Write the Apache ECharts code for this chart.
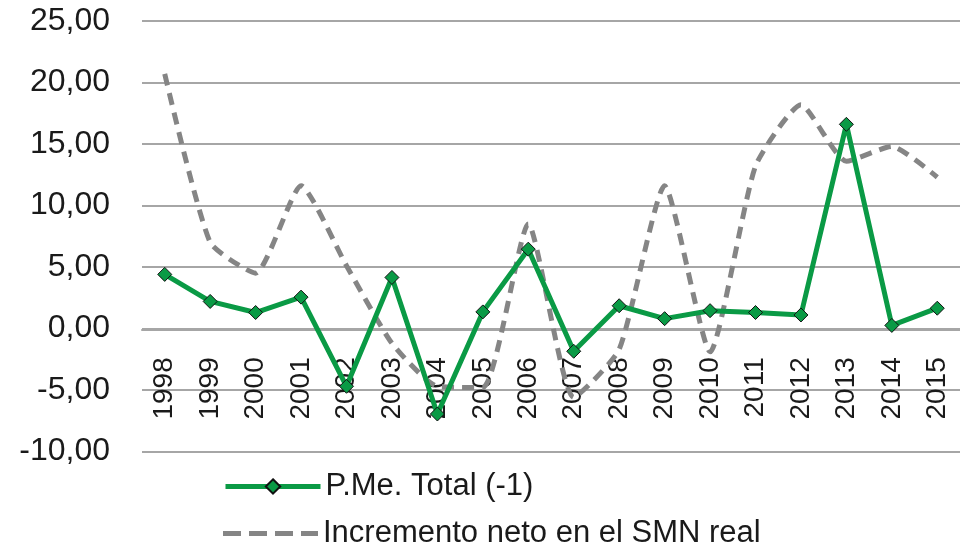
<!DOCTYPE html>
<html>
<head>
<meta charset="utf-8">
<script src="https://cdn.jsdelivr.net/npm/echarts@6/dist/echarts.min.js"></script>
<style>
  html, body { margin: 0; padding: 0; background: #fff; }
  #chart { width: 960px; height: 548px; }
</style>
</head>
<body>
<div id="chart"></div>
<script>
// years on the x axis
var years = ['1998', '1999', '2000', '2001', '2002', '2003', '2004', '2005', '2006',
  '2007', '2008', '2009', '2010', '2011', '2012', '2013', '2014', '2015'];

// P.Me. Total (-1)
var pmeTotal = [4.4, 2.2, 1.3, 2.55, -4.7, 4.15, -6.95, 1.35, 6.45,
  -1.85, 1.85, 0.8, 1.45, 1.3, 1.1, 16.6, 0.25, 1.65];

// Incremento neto en el SMN real
var smnReal = [20.7, 7.0, 4.5, 11.6, 5.1, -1.2, -4.7, -4.8, 8.5,
  -5.6, -1.7, 11.6, -1.9, 13.2, 18.2, 13.6, 14.8, 12.3];

var seriesNames = ['P.Me. Total (-1)', 'Incremento neto en el SMN real'];

var legendText = { fontSize: 31, color: '#1a1a1a' };

var chart = echarts.init(document.getElementById('chart'));

chart.setOption({
  animation: false,
  textStyle: { fontFamily: 'Liberation Sans, Arial, sans-serif' },
  grid: {
    left: 142,
    right: -6,
    top: 21,
    bottom: 96.5,
    containLabel: false
  },
  // one legend per row so they stack like the original
  legend: [{
    left: 218,
    top: 466,
    itemWidth: 95,
    itemHeight: 18,
    data: [seriesNames[0]],
    lineStyle: { width: 5 },
    textStyle: legendText
  }, {
    left: 218,
    top: 513,
    itemWidth: 95,
    itemHeight: 5,
    data: [{
      name: seriesNames[1],
      // dashed line, no marker
      icon: 'path://M0,0h18v5h-18z M26,0h18v5h-18z M52,0h18v5h-18z M78,0h17v5h-17z'
    }],
    textStyle: legendText
  }],
  xAxis: {
    type: 'category',
    data: years,
    boundaryGap: true,
    offset: -122.2,
    axisLine: { onZero: false, lineStyle: { color: '#a6a6a6', width: 2 } },
    axisTick: { show: false },
    axisLabel: {
      rotate: 90,
      margin: 28,
      fontSize: 28,
      color: '#1a1a1a',
      interval: 0
    },
    splitLine: { show: false }
  },
  yAxis: {
    type: 'value',
    min: -10,
    max: 25,
    interval: 5,
    axisLine: { show: false },
    axisTick: { show: false },
    axisLabel: {
      fontSize: 32,
      color: '#1a1a1a',
      margin: 32,
      formatter: function (v) { return v.toFixed(2).replace('.', ','); }
    },
    splitLine: { lineStyle: { color: '#a6a6a6', width: 2 } }
  },
  series: [{
    name: seriesNames[1],
    type: 'line',
    data: smnReal,
    smooth: 0.18,
    symbol: 'none',
    z: 2,
    lineStyle: { color: '#858585', width: 5, type: [12, 8] },
    itemStyle: { color: '#858585' }
  }, {
    name: seriesNames[0],
    type: 'line',
    data: pmeTotal,
    symbol: 'diamond',
    symbolSize: 14,
    z: 3,
    lineStyle: { color: '#0a9a45', width: 5 },
    itemStyle: { color: '#0a9a45', borderColor: '#111', borderWidth: 1 }
  }]
});
</script>
</body>
</html>
